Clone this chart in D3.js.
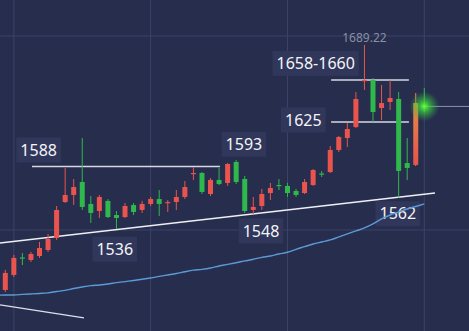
<!DOCTYPE html>
<html>
<head>
<meta charset="utf-8">
<script src="https://cdn.jsdelivr.net/npm/d3@7"></script>
<style>
  body { margin: 0; background: #272d4d; }
  svg { display: block; }
</style>
</head>
<body>
<div id="chart"></div>
<script>
// candle data (gold, daily)
const opens  = [1485.0,1497.5,1512.1,1510.0,1513.3,1518.3,1528.3,1558.3,1564.2,1575.0,
                1556.7,1550.8,1559.2,1547.5,1545.8,1555.8,1551.7,1556.7,1560.8,1557.5,
                1558.3,1562.5,1581.7,1582.5,1565.0,1576.7,1574.2,1591.7,1577.5,1551.7,
                1555.0,1565.8,1572.5,1571.7,1567.5,1565.8,1572.5,1582.1,1583.3,1601.7,
                1611.7,1620.8,1659.2,1660.0,1636.7,1641.7,1644.2,1590.8,1589.2,1638.8];
const highs  = [1501.7,1514.2,1515.8,1516.7,1525.0,1531.7,1555.0,1586.7,1577.5,1611.7,
                1563.3,1564.2,1560.8,1550.8,1557.5,1557.5,1559.2,1562.5,1568.3,1560.0,
                1568.3,1575.8,1587.5,1583.3,1578.3,1586.7,1590.8,1593.3,1580.0,1562.5,
                1569.2,1574.2,1577.5,1574.2,1569.2,1577.5,1585.8,1584.2,1605.0,1613.3,
                1624.2,1650.0,1689.22,1661.7,1655.8,1660.0,1650.0,1611.7,1649.2,1653.3];
const lows   = [1483.3,1495.8,1505.8,1508.3,1511.7,1516.7,1526.7,1557.5,1555.8,1551.7,
                1540.8,1545.0,1545.0,1535.8,1545.0,1547.5,1549.2,1555.0,1546.7,1550.0,
                1551.7,1560.8,1576.7,1565.0,1563.3,1572.5,1571.7,1573.3,1549.2,1548.3,
                1551.7,1560.0,1568.3,1562.5,1562.5,1565.0,1571.7,1579.2,1582.5,1600.0,
                1604.2,1620.0,1651.7,1625.0,1626.7,1635.0,1562.0,1576.7,1588.3,1633.3];
const closes = [1499.2,1511.7,1511.3,1515.0,1520.0,1527.5,1551.7,1564.2,1570.8,1554.2,
                1549.2,1562.5,1545.8,1545.0,1555.0,1550.0,1556.7,1560.8,1556.7,1558.3,
                1562.5,1570.8,1582.5,1566.7,1576.7,1573.3,1590.0,1575.0,1550.8,1554.2,
                1565.0,1570.0,1571.7,1565.8,1564.2,1575.0,1585.0,1581.3,1601.7,1612.5,
                1619.2,1644.2,1660.0,1633.3,1640.8,1645.0,1584.2,1586.7,1640.8,1638.0];

// moving average (blue), starts one bar before the first candle
const maStart = -1;
const maValues = [1480.6,1480.8,1480.8,1481.3,1481.7,1482.1,1482.6,1483.7,1484.7,1486.2,
                  1487.5,1488.6,1489.2,1490.0,1491.1,1492.0,1492.9,1493.9,1495.0,1496.3,
                  1497.5,1498.7,1500.2,1501.5,1502.2,1503.3,1505.0,1506.3,1507.7,1509.2,
                  1510.6,1512.2,1513.3,1515.0,1516.4,1518.9,1521.1,1523.3,1525.0,1526.7,
                  1529.2,1531.7,1534.2,1536.7,1540.0,1544.2,1547.5,1550.0,1552.5,1554.6,1556.7];

// drawn lines: [bar index, price]
const supportLine = [[-0.62, 1524.2], [50.25, 1565.8]];
const lowerLine   = [[-0.62, 1472.5], [9.2, 1461.7]];
const levelLines  = [
  {price: 1588, from: 3.12, to: 25.1},
  {price: 1660, from: 38.1, to: 47.2},
  {price: 1625, from: 38.1, to: 47.2}
];

// price labels in boxes (center at bar index / price)
const labels = [
  {text: "1588",      idx: 3.9,  price: 1601.7},
  {text: "1593",      idx: 27.9, price: 1606.4},
  {text: "1536",      idx: 12.8, price: 1519.0},
  {text: "1548",      idx: 29.9, price: 1534.3},
  {text: "1562",      idx: 45.9, price: 1548.6},
  {text: "1625",      idx: 34.85, price: 1626.7},
  {text: "1658-1660", idx: 36.3, price: 1673.9}
];
const peakIndex = 42;
const peakText = "1689.22";

// grid positions
const gridBars = [1, 17, 33, 49];
const gridPrices = [1535, 1696.7];

const width = 469, height = 331;

const svg = d3.select("#chart")
    .append("svg")
    .attr("width", width)
    .attr("height", height);

svg.append("rect")
    .attr("width", width)
    .attr("height", height)
    .attr("fill", "#272d4d");

const x = d3.scaleLinear().domain([0, 49]).range([5.3, 424.3]);
const y = d3.scaleLinear().domain([1450.8, 1726.7]).range([height, 0]);

const defs = svg.append("defs");
const glow = defs.append("radialGradient").attr("id", "glow");
glow.append("stop").attr("offset", "0%").attr("stop-color", "#66ff44").attr("stop-opacity", 1);
glow.append("stop").attr("offset", "35%").attr("stop-color", "#3fd83a").attr("stop-opacity", 0.7);
glow.append("stop").attr("offset", "100%").attr("stop-color", "#2eb34a").attr("stop-opacity", 0);

const lastGrad = defs.append("linearGradient").attr("id", "lastbar")
    .attr("x1", 0).attr("y1", 0).attr("x2", 0).attr("y2", 1);
lastGrad.append("stop").attr("offset", "0%").attr("stop-color", "#e38a44");
lastGrad.append("stop").attr("offset", "100%").attr("stop-color", "#e8534d");

// grid
svg.selectAll(".vgrid")
    .data(gridBars)
    .join("line")
    .attr("x1", d => x(d)).attr("x2", d => x(d))
    .attr("y1", 0).attr("y2", height)
    .attr("stroke", "#3b4367")
    .attr("stroke-width", 1);

svg.selectAll(".hgrid")
    .data(gridPrices)
    .join("line")
    .attr("x1", 0).attr("x2", width)
    .attr("y1", d => y(d)).attr("y2", d => y(d))
    .attr("stroke", "#3b4367")
    .attr("stroke-width", 1);

// label boxes
const lab = svg.selectAll(".lab")
    .data(labels)
    .join("g")
    .attr("transform", d => `translate(${x(d.idx)},${y(d.price)})`);

const boxRects = lab.append("rect")
    .attr("fill", "#30375a");

lab.append("text")
    .attr("text-anchor", "middle")
    .attr("dy", "0.36em")
    .attr("fill", "#f4f5f8")
    .style("font-family", "'Noto Sans', sans-serif")
    .style("font-size", "16px")
    .text(d => d.text)
    .each(function(d) { d.w = this.getComputedTextLength(); });

boxRects
    .attr("x", d => -d.w / 2 - 4)
    .attr("y", -12.5)
    .attr("width", d => d.w + 8)
    .attr("height", 25);

// trend lines
const line = d3.line().x(d => x(d[0])).y(d => y(d[1]));

svg.append("path")
    .attr("d", line(supportLine))
    .attr("fill", "none")
    .attr("stroke", "#eef0f5")
    .attr("stroke-width", 1.5);

svg.append("path")
    .attr("d", line(lowerLine))
    .attr("fill", "none")
    .attr("stroke", "#dfe1ea")
    .attr("stroke-width", 1.3);

svg.selectAll(".level")
    .data(levelLines)
    .join("line")
    .attr("x1", d => x(d.from)).attr("x2", d => x(d.to))
    .attr("y1", d => y(d.price)).attr("y2", d => y(d.price))
    .attr("stroke", "#d6d8e2")
    .attr("stroke-width", 1.5);

// candles
const candles = d3.range(opens.length).map(i => ({
    i: i, o: opens[i], h: highs[i], l: lows[i], c: closes[i]
}));
const upColor = "#e9554e", downColor = "#2fb84c";
const barColor = d => d.i === candles.length - 2 ? "url(#lastbar)" : (d.c >= d.o ? upColor : downColor);
const wickColor = d => d.i === candles.length - 2 ? "#e38a44" : (d.c >= d.o ? upColor : downColor);

svg.selectAll(".wick")
    .data(candles)
    .join("line")
    .attr("x1", d => x(d.i)).attr("x2", d => x(d.i))
    .attr("y1", d => y(d.h)).attr("y2", d => y(d.l))
    .attr("stroke", wickColor)
    .attr("stroke-width", 1);

svg.selectAll(".body")
    .data(candles)
    .join("rect")
    .attr("x", d => x(d.i) - 2.5)
    .attr("width", 5)
    .attr("y", d => y(Math.max(d.o, d.c)))
    .attr("height", d => Math.max(1.2, Math.abs(y(d.o) - y(d.c))))
    .attr("fill", barColor);

// moving average
const ma = d3.line()
    .x((d, i) => x(i + maStart))
    .y(d => y(d))
    .curve(d3.curveMonotoneX);

svg.append("path")
    .attr("d", ma(maValues))
    .attr("fill", "none")
    .attr("stroke", "#5c9ad6")
    .attr("stroke-width", 1.4);

// current price line + glow on the last bar
const last = candles[candles.length - 1];
svg.append("line")
    .attr("x1", x(last.i)).attr("x2", width)
    .attr("y1", y(last.c)).attr("y2", y(last.c))
    .attr("stroke", "#8d93ad")
    .attr("stroke-width", 1);

svg.append("circle")
    .attr("cx", x(last.i))
    .attr("cy", y(last.c))
    .attr("r", 15)
    .attr("fill", "url(#glow)");

// peak value
svg.append("text")
    .attr("x", x(peakIndex))
    .attr("y", y(highs[peakIndex]) - 3)
    .attr("text-anchor", "middle")
    .attr("fill", "#8a8fa6")
    .style("font-family", "'Noto Sans', sans-serif")
    .style("font-size", "12px")
    .text(peakText);
</script>
</body>
</html>
